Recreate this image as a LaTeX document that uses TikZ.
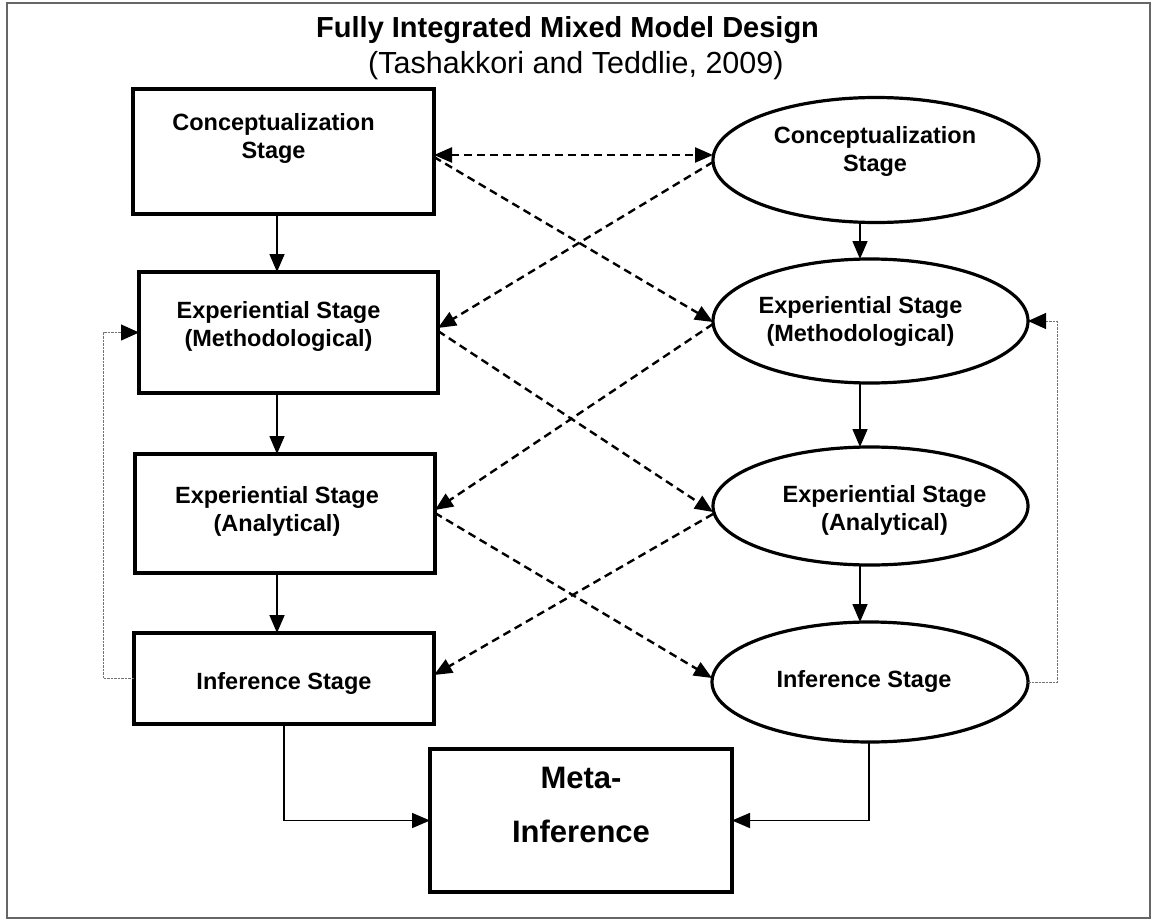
\documentclass[tikz,border=0pt]{standalone}
\usepackage{fontspec}
\setmainfont{Liberation Sans}
\usetikzlibrary{shapes.geometric,arrows.meta}

\begin{document}
\begin{tikzpicture}[x=1pt,y=-1pt,
  stagebox/.style={draw, rectangle, line width=3.2pt, inner sep=0pt, outer sep=0pt},
  stageoval/.style={draw, ellipse, line width=3.2pt, inner sep=0pt, outer sep=0pt},
  lbl/.style={font=\bfseries\fontsize{23.5}{28}\selectfont, align=center, inner sep=0pt},
  metalbl/.style={font=\bfseries\fontsize{31}{54}\selectfont, align=center, inner sep=0pt},
  flow/.style={line width=1.6pt, -{Triangle[length=18pt,width=15pt]}},
  link/.style={line width=2.4pt, dash pattern=on 8pt off 5pt, -{Triangle[length=18pt,width=15pt]}},
  linkboth/.style={line width=2.4pt, dash pattern=on 8pt off 5pt,
    {Triangle[length=18pt,width=15pt]}-{Triangle[length=18pt,width=15pt]}},
  feedback/.style={line width=1pt, draw=black!55, dash pattern=on 2.5pt off 1pt,
    -{Triangle[length=18pt,width=16pt,color=black]}},
]
\useasboundingbox (0,0) rectangle (1156,923);

% outer frame
\draw[line width=1.2pt, draw=black!60] (7,3) rectangle (1150,918);

% heading
\node[anchor=west, inner sep=0pt, font=\bfseries\fontsize{29}{34}\selectfont] (title) at (316,30)
  {Fully Integrated Mixed Model Design};
\node[anchor=west, inner sep=0pt, font=\fontsize{30.5}{34}\selectfont] (source) at (368,66)
  {(Tashakkori and Teddlie, 2009)};

% left strand (boxes)
\node[stagebox, minimum width=301pt, minimum height=125pt,
  label={[lbl, name=cbt, xshift=-10pt, yshift=13.5pt]center:{Conceptualization\\Stage}}]
  (cb) at (283.5,151.5) {};
\node[stagebox, minimum width=299pt, minimum height=121pt,
  label={[lbl, name=ebt, xshift=-10pt, yshift=6.5pt]center:{Experiential Stage\\(Methodological)}}]
  (eb) at (288.5,332.5) {};
\node[stagebox, minimum width=300pt, minimum height=119pt,
  label={[lbl, name=abt, xshift=-8pt, yshift=2pt]center:{Experiential Stage\\(Analytical)}}]
  (ab) at (285,513.5) {};
\node[stagebox, minimum width=300pt, minimum height=91pt,
  label={[lbl, name=ibt, yshift=-4.5pt]center:{Inference Stage}}]
  (ib) at (284,678.5) {};

% right strand (ovals)
\node[stageoval, minimum width=326pt, minimum height=125pt,
  label={[lbl, name=cet, xshift=-1pt, yshift=8.5pt]center:{Conceptualization\\Stage}}]
  (ce) at (876,160) {};
\node[stageoval, minimum width=315pt, minimum height=124pt,
  label={[lbl, name=eet, xshift=-10pt]center:{Experiential Stage\\(Methodological)}}]
  (ee) at (870.5,321) {};
\node[stageoval, minimum width=315pt, minimum height=118pt,
  label={[lbl, name=aet, xshift=14pt, yshift=-4.5pt]center:{Experiential Stage\\(Analytical)}}]
  (ae) at (870.5,506) {};
\node[stageoval, minimum width=316pt, minimum height=120pt,
  label={[lbl, name=iet, xshift=-6pt, yshift=1pt]center:{Inference Stage}}]
  (ie) at (870,682) {};

% meta-inference
\node[stagebox, minimum width=302pt, minimum height=143pt,
  label={[metalbl, name=mbt, yshift=15.5pt]center:{Meta-\\Inference}}]
  (mb) at (581,820.5) {};

% flow within each strand
\draw[flow] ([xshift=-6.5pt]cb.south) -- ([xshift=-11.5pt]eb.north);
\draw[flow] ([xshift=-11.5pt]eb.south) -- ([xshift=-8pt]ab.north);
\draw[flow] ([xshift=-8pt]ab.south) -- ([xshift=-7pt]ib.north);
\draw[flow] ([xshift=-16pt]ce.south) -- ([xshift=-10.5pt]ee.north);
\draw[flow] ([xshift=-10.5pt]ee.south) -- ([xshift=-10.5pt]ae.north);
\draw[flow] ([xshift=-10.5pt]ae.south) -- ([xshift=-10pt]ie.north);

% both strands feed the meta-inference
\draw[flow] (ib.south) |- (mb.west);
\draw[flow] ([xshift=-1pt]ie.south) |- (mb.east);

% cross links between strands
\draw[linkboth] ([yshift=-3.5pt]cb.east) -- ([yshift=5pt]ce.west);
\draw[link] ([yshift=-5.5pt]cb.east) -- ([yshift=-1pt]ee.west);
\draw[link] ([yshift=-2pt]ce.west) -- ([yshift=4.5pt]eb.east);
\draw[link] ([yshift=-3pt]ee.west) -- ([yshift=3.5pt]ab.east);
\draw[link] ([yshift=1.5pt]eb.east) -- ([yshift=-6pt]ae.west);
\draw[link] ([yshift=-8pt]ae.west) -- ([yshift=3.5pt]ib.east);
\draw[link] ([yshift=0.5pt]ab.east) -- ([yshift=4pt]ie.west);

% feedback loops
\draw[feedback] (ib.west) -- ++(-31,0) |- (eb.west);
\draw[feedback] (ie.east) -- ++(29,0) |- (ee.east);
\end{tikzpicture}
\end{document}
